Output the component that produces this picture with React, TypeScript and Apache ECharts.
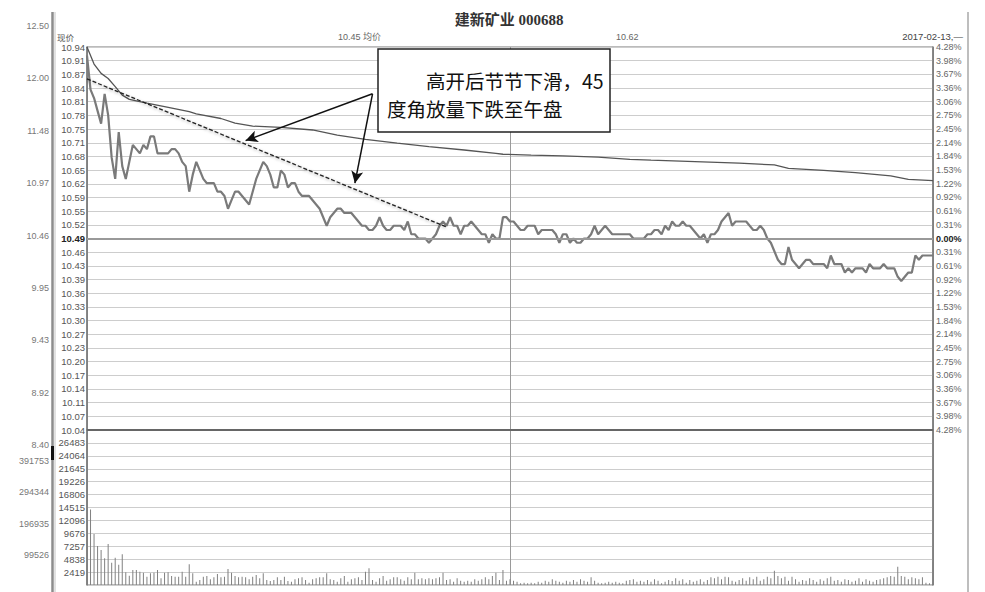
import React, { useEffect, useRef } from "react";
import * as echarts from "echarts";

// intraday minute prices, 9:30-11:30 and 13:00-15:00
const priceAM = [
  10.92, 10.84, 10.82, 10.79, 10.76, 10.83, 10.78, 10.68, 10.63, 10.74,
  10.66, 10.63, 10.67, 10.71, 10.7, 10.69, 10.71, 10.7, 10.73, 10.73,
  10.69, 10.69, 10.69, 10.69, 10.7, 10.7, 10.69, 10.67, 10.66, 10.6,
  10.64, 10.67, 10.65, 10.63, 10.62, 10.62, 10.62, 10.6, 10.6, 10.59,
  10.56, 10.58, 10.6, 10.6, 10.59, 10.58, 10.57, 10.6, 10.63, 10.65,
  10.67, 10.66, 10.64, 10.61, 10.61, 10.65, 10.64, 10.61, 10.62, 10.62,
  10.6, 10.59, 10.59, 10.59, 10.58, 10.57, 10.56, 10.54, 10.52, 10.54,
  10.55, 10.56, 10.56, 10.55, 10.55, 10.55, 10.54, 10.53, 10.52, 10.52,
  10.51, 10.51, 10.52, 10.54, 10.52, 10.51, 10.51, 10.52, 10.52, 10.52,
  10.51, 10.53, 10.5, 10.5, 10.49, 10.49, 10.49, 10.48, 10.49, 10.5,
  10.52, 10.53, 10.52, 10.54, 10.52, 10.52, 10.5, 10.52, 10.52, 10.53,
  10.52, 10.51, 10.5, 10.5, 10.48, 10.5, 10.49, 10.49, 10.54, 10.54,
  10.53,
];
const pricePM = [
  10.53, 10.52, 10.51, 10.51, 10.52, 10.52, 10.52, 10.5, 10.51, 10.51,
  10.51, 10.51, 10.5, 10.48, 10.5, 10.5, 10.48, 10.49, 10.48, 10.48,
  10.49, 10.49, 10.5, 10.52, 10.5, 10.51, 10.52, 10.51, 10.5, 10.5,
  10.5, 10.5, 10.5, 10.5, 10.49, 10.49, 10.49, 10.49, 10.5, 10.5,
  10.51, 10.51, 10.5, 10.52, 10.51, 10.53, 10.52, 10.52, 10.53, 10.52,
  10.52, 10.51, 10.5, 10.49, 10.5, 10.48, 10.5, 10.5, 10.51, 10.53,
  10.54, 10.55, 10.52, 10.53, 10.53, 10.53, 10.53, 10.52, 10.51, 10.51,
  10.52, 10.51, 10.49, 10.48, 10.46, 10.44, 10.43, 10.43, 10.47, 10.44,
  10.43, 10.42, 10.43, 10.44, 10.44, 10.43, 10.43, 10.43, 10.43, 10.42,
  10.45, 10.43, 10.43, 10.43, 10.41, 10.42, 10.41, 10.42, 10.42, 10.42,
  10.41, 10.43, 10.42, 10.42, 10.42, 10.43, 10.42, 10.42, 10.42, 10.4,
  10.39, 10.4, 10.41, 10.41, 10.45, 10.44, 10.45, 10.45, 10.45, 10.45,
];

// average price line [minute, price]
const avgPoints = [
  [0, 10.94], [2, 10.9], [4, 10.878], [6, 10.866], [8, 10.847], [10, 10.827],
  [12, 10.817], [17, 10.808], [22, 10.8], [29, 10.788], [31, 10.783],
  [38, 10.772], [42, 10.761], [47, 10.754], [55, 10.751], [64, 10.745],
  [71, 10.733], [79, 10.723], [88, 10.714], [97, 10.706], [107, 10.698],
  [116, 10.69], [118, 10.688], [126, 10.686], [135, 10.684], [145, 10.681],
  [154, 10.676], [160, 10.674], [185, 10.667], [195, 10.663], [199, 10.655],
  [209, 10.65], [218, 10.645], [228, 10.637], [233, 10.629], [240, 10.626],
];

const volAM = [
  27000, 14160, 9550, 7300, 6550, 4990, 7680, 4180, 5120, 3800,
  5740, 2370, 1750, 2810, 2810, 2500, 2310, 1560, 2180, 2310,
  2810, 1250, 2310, 2370, 1680, 1560, 1560, 2500, 1560, 3870,
  2180, 620, 940, 1560, 1680, 1060, 1440, 2060, 1440, 1560,
  3000, 2310, 1680, 1440, 1560, 1440, 1060, 1560, 1870, 1250,
  2180, 940, 750, 940, 1440, 940, 1560, 750, 620, 1060,
  1250, 1440, 940, 440, 1060, 1250, 1440, 1440, 2180, 1060,
  940, 620, 1250, 1680, 620, 1060, 1250, 1440, 940, 2500,
  3120, 940, 620, 1250, 1680, 810, 1060, 1440, 1440, 1060,
  810, 1440, 1060, 2310, 1060, 1250, 1060, 1250, 1060, 1250,
  1440, 2310, 940, 1060, 620, 1250, 810, 620, 810, 620,
  1060, 810, 1060, 1440, 1060, 1680, 2310, 940, 2810, 810,
  1060,
];
const volPM = [
  810, 620, 310, 440, 310, 440, 310, 620, 440, 810,
  620, 1060, 810, 620, 440, 810, 620, 940, 620, 1060,
  810, 620, 1440, 810, 440, 310, 440, 620, 440, 620,
  440, 310, 810, 940, 1060, 620, 810, 620, 940, 620,
  1060, 810, 310, 620, 940, 750, 1250, 810, 1060, 440,
  940, 620, 810, 1060, 620, 940, 1440, 1250, 1560, 1060,
  1560, 1440, 810, 620, 940, 1250, 810, 1440, 1060, 1560,
  810, 1060, 1560, 1250, 2680, 1680, 1250, 1560, 810, 1560,
  1060, 620, 940, 810, 1250, 940, 620, 1060, 810, 1250,
  1560, 810, 940, 620, 1060, 940, 620, 810, 1250, 620,
  1060, 810, 620, 940, 1060, 1250, 1440, 1680, 1560, 3430,
  1680, 1560, 1060, 1440, 1250, 1060, 1440, 440, 310, 4370,
];

const priceLabels = [
  "10.94", "10.91", "10.87", "10.84", "10.81", "10.78", "10.75", "10.71",
  "10.68", "10.65", "10.62", "10.59", "10.55", "10.52", "10.49", "10.46",
  "10.43", "10.39", "10.36", "10.33", "10.30", "10.27", "10.23", "10.20",
  "10.17", "10.14", "10.11", "10.07", "10.04",
];
const pctLabels = [
  "4.28%", "3.98%", "3.67%", "3.36%", "3.06%", "2.75%", "2.45%", "2.14%",
  "1.84%", "1.53%", "1.22%", "0.92%", "0.61%", "0.31%", "0.00%", "0.31%",
  "0.61%", "0.92%", "1.22%", "1.53%", "1.84%", "2.14%", "2.45%", "2.75%",
  "3.06%", "3.36%", "3.67%", "3.98%", "4.28%",
];
const volLabels = [
  "2419", "4838", "7257", "9676", "12096", "14515", "16806", "19226",
  "21645", "24064", "26483",
];
const outerPriceLabels = ["12.50", "12.00", "11.48", "10.97", "10.46", "9.95", "9.43", "8.92", "8.40"];
const outerVolLabels = ["", "99526", "196935", "294344", "391753"];

// dashed trend line and the two arrows, [minute, price]
const trendLine = [[0, 10.865], [102, 10.517]];
const arrowFrom = [81, 10.83];
const arrowTips = [[45, 10.72], [76, 10.62]];

const PRE_CLOSE = 10.49;
const STEP = 0.45 / 14;
const VOL_STEP = 2419;
const toStep = (p: number) => (p - PRE_CLOSE) / STEP;

const NUM_FONT = "'Liberation Sans', Arial, 'Noto Sans CJK SC', sans-serif";
const CJK_FONT = "'Noto Sans CJK SC', sans-serif";

const App = () => {
  const chartRef = useRef<HTMLDivElement>(null);

  useEffect(() => {
    document.body.style.margin = "0";
    if (!chartRef.current) return;
    const chart = echarts.init(chartRef.current, undefined, { renderer: "svg" });

    const prices = [...priceAM, ...pricePM];
    const volumes = [...volAM, ...volPM];

    const minuteAxis = (gridIndex: number) => ({
      type: "value",
      gridIndex,
      min: 0,
      max: 240,
      interval: 120,
      axisLabel: { show: false },
      axisTick: { show: false },
      axisLine: { show: false },
      splitLine: { show: true, lineStyle: { color: "#9a9a9a", width: 1 } },
    });

    const options = {
      animation: false,
      backgroundColor: "#ffffff",
      grid: [
        { left: 87, right: 52, top: 47, height: 383, show: true, borderColor: "#777", borderWidth: 1 },
        { left: 87, right: 52, top: 430, height: 155, show: true, borderColor: "#777", borderWidth: 1 },
        { left: 51, width: 1, top: 26, height: 419 },
        { left: 51, width: 1, top: 461, height: 125 },
      ],
      xAxis: [
        minuteAxis(0),
        minuteAxis(1),
        { type: "value", gridIndex: 2, show: false },
        { type: "value", gridIndex: 3, show: false },
      ],
      yAxis: [
        {
          type: "value",
          gridIndex: 0,
          position: "left",
          min: -14,
          max: 14,
          interval: 1,
          axisLine: { show: true, lineStyle: { color: "#777", width: 1.5 } },
          axisTick: { show: false },
          splitLine: { show: true, lineStyle: { color: "#cdcdcd", width: 1 } },
          axisLabel: {
            margin: 2,
            color: "#555",
            fontSize: 9.5,
            fontFamily: NUM_FONT,
            formatter: (v: number) => {
              const i = Math.round(14 - v);
              return i === 14 ? `{z|${priceLabels[i]}}` : priceLabels[i];
            },
            rich: { z: { fontWeight: "bold", color: "#222", fontSize: 9.5, fontFamily: NUM_FONT } },
          },
        },
        {
          type: "value",
          gridIndex: 0,
          position: "right",
          min: -14,
          max: 14,
          interval: 1,
          axisLine: { show: true, lineStyle: { color: "#777", width: 1.5 } },
          axisTick: { show: false },
          splitLine: { show: false },
          axisLabel: {
            margin: 3,
            color: "#666",
            fontSize: 9,
            fontFamily: NUM_FONT,
            formatter: (v: number) => {
              const i = Math.round(14 - v);
              return i === 14 ? `{z|${pctLabels[i]}}` : pctLabels[i];
            },
            rich: { z: { fontWeight: "bold", color: "#222", fontSize: 9, fontFamily: NUM_FONT } },
          },
        },
        {
          type: "value",
          gridIndex: 1,
          position: "left",
          min: 0,
          max: VOL_STEP * 12,
          interval: VOL_STEP,
          axisLine: { show: true, lineStyle: { color: "#777", width: 1.5 } },
          axisTick: { show: false },
          splitLine: { show: true, lineStyle: { color: "#cdcdcd", width: 1 } },
          axisLabel: {
            margin: 2,
            color: "#555",
            fontSize: 9.5,
            fontFamily: NUM_FONT,
            formatter: (v: number) => {
              const i = Math.round(v / VOL_STEP);
              return i >= 1 && i <= volLabels.length ? volLabels[i - 1] : "";
            },
          },
        },
        {
          type: "value",
          gridIndex: 1,
          position: "right",
          min: 0,
          max: VOL_STEP * 12,
          interval: VOL_STEP,
          axisLine: { show: true, lineStyle: { color: "#777", width: 1.5 } },
          axisTick: { show: false },
          splitLine: { show: false },
          axisLabel: { show: false },
        },
        {
          type: "value",
          gridIndex: 2,
          inverse: true,
          min: 0,
          max: 8,
          interval: 1,
          axisLine: { show: false },
          axisTick: { show: false },
          splitLine: { show: false },
          axisLabel: {
            margin: 2,
            color: "#777",
            fontSize: 9,
            fontFamily: NUM_FONT,
            formatter: (v: number) => outerPriceLabels[Math.round(v)],
          },
        },
        {
          type: "value",
          gridIndex: 3,
          min: 0,
          max: 4,
          interval: 1,
          axisLine: { show: false },
          axisTick: { show: false },
          splitLine: { show: false },
          axisLabel: {
            margin: 2,
            color: "#777",
            fontSize: 9,
            fontFamily: NUM_FONT,
            formatter: (v: number) => outerVolLabels[Math.round(v)],
          },
        },
      ],
      series: [
        {
          name: "均价",
          type: "line",
          xAxisIndex: 0,
          yAxisIndex: 0,
          showSymbol: false,
          data: avgPoints.map(([m, p]) => [m, toStep(p)]),
          lineStyle: { color: "#555", width: 1.3 },
          z: 3,
        },
        {
          name: "现价",
          type: "line",
          xAxisIndex: 0,
          yAxisIndex: 0,
          showSymbol: false,
          data: prices.map((p, i) => [i, toStep(p)]),
          lineStyle: { color: "#7a7a7a", width: 2.2 },
          z: 4,
          markLine: {
            silent: true,
            symbol: "none",
            label: { show: false },
            data: [
              { yAxis: 0, lineStyle: { color: "#999", width: 2, type: "solid" } },
              { yAxis: -14, lineStyle: { color: "#666", width: 2, type: "solid" } },
            ],
          },
        },
        {
          name: "趋势",
          type: "line",
          xAxisIndex: 0,
          yAxisIndex: 0,
          showSymbol: false,
          data: trendLine.map(([m, p]) => [m, toStep(p)]),
          lineStyle: {
            color: "#222",
            width: 1.3,
            type: [4, 2],
            shadowBlur: 3,
            shadowColor: "rgba(0,0,0,0.35)",
            shadowOffsetY: 1,
          },
          z: 5,
          markLine: {
            silent: true,
            symbol: ["none", "arrow"],
            symbolSize: [9, 12],
            label: { show: false },
            lineStyle: { color: "#111", width: 1.5, type: "solid" },
            data: arrowTips.map(([m, p]) => [
              { coord: [arrowFrom[0], toStep(arrowFrom[1])] },
              { coord: [m, toStep(p)] },
            ]),
          },
        },
        {
          name: "成交量",
          type: "bar",
          xAxisIndex: 1,
          yAxisIndex: 2,
          barWidth: 1,
          data: volumes.map((v, i) => [i, v]),
          itemStyle: { color: "#808080" },
        },
      ],
      graphic: [
        {
          type: "line",
          silent: true,
          shape: { x1: 52.5, y1: 12, x2: 52.5, y2: 592 },
          style: { stroke: "#8c8c8c", lineWidth: 2.5 },
        },
        {
          type: "line",
          silent: true,
          shape: { x1: 55, y1: 12, x2: 55, y2: 592 },
          style: { stroke: "#c4c4c4", lineWidth: 1 },
        },
        {
          type: "rect",
          silent: true,
          shape: { x: 51, y: 446, width: 3, height: 14 },
          style: { fill: "#111" },
        },
        {
          type: "line",
          silent: true,
          shape: { x1: 968, y1: 12, x2: 968, y2: 592 },
          style: { stroke: "#a8a8a8", lineWidth: 1.5 },
        },
        {
          type: "text",
          x: 509,
          y: 20,
          style: {
            text: "建新矿业 000688",
            align: "center",
            verticalAlign: "middle",
            fontSize: 15,
            fontWeight: "bold",
            fontFamily: "'Liberation Serif', 'Noto Sans CJK SC', serif",
            fill: "#333",
          },
        },
        {
          type: "text",
          x: 57,
          y: 37,
          style: { text: "现价", verticalAlign: "middle", fontSize: 8.5, fontFamily: CJK_FONT, fill: "#555" },
        },
        {
          type: "text",
          x: 338,
          y: 37,
          style: { text: "10.45 均价", verticalAlign: "middle", fontSize: 9, fontFamily: NUM_FONT, fill: "#666" },
        },
        {
          type: "text",
          x: 616,
          y: 37,
          style: { text: "10.62", verticalAlign: "middle", fontSize: 9, fontFamily: NUM_FONT, fill: "#666" },
        },
        {
          type: "text",
          x: 963,
          y: 36,
          style: {
            text: "2017-02-13,—",
            align: "right",
            verticalAlign: "middle",
            fontSize: 9.5,
            fontFamily: NUM_FONT,
            fill: "#444",
          },
        },
        {
          type: "rect",
          z: 100,
          shape: { x: 378, y: 49, width: 232, height: 83 },
          style: { fill: "#ffffff", stroke: "#222", lineWidth: 1.5 },
        },
        {
          type: "text",
          z: 101,
          x: 387,
          y: 66,
          style: {
            text: "\u3000\u3000高开后节节下滑，45\n度角放量下跌至午盘",
            fontSize: 19.5,
            lineHeight: 28,
            fontFamily: CJK_FONT,
            fill: "#111",
            verticalAlign: "top",
          },
        },
      ],
    };

    chart.setOption(options as any);

    return () => {
      chart.dispose();
    };
  }, []);

  return <div ref={chartRef} style={{ width: "985px", height: "592px" }} />;
};

export default App;
